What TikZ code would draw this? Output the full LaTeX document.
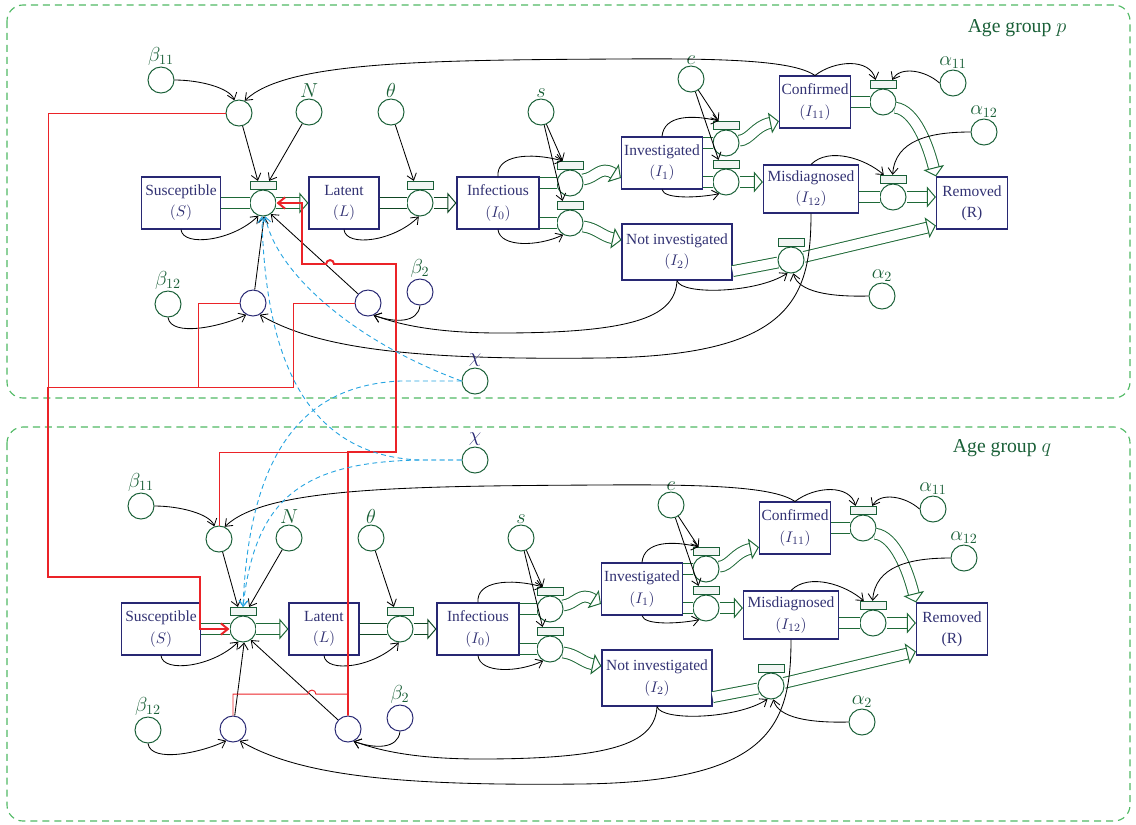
\documentclass[tikz,border=0pt]{standalone}
\usepackage{fontspec}
\setmainfont{Liberation Serif}
\usetikzlibrary{arrows.meta}
\definecolor{colNavy}{RGB}{40,40,115}
\definecolor{colText}{RGB}{50,50,115}
\definecolor{colGreen}{RGB}{25,95,55}
\definecolor{colPipe}{RGB}{30,105,55}
\definecolor{colPipeDark}{RGB}{15,70,35}
\definecolor{colFrame}{RGB}{80,185,100}
\definecolor{colRed}{RGB}{235,35,40}
\definecolor{colBlue}{RGB}{40,165,225}
\tikzset{
    box/.style={rectangle, draw=colNavy, line width=0.8pt, text=colText, align=center,
        minimum height=1.3cm, inner sep=1pt, font=\fontsize{11}{15}\selectfont},
    place/.style={circle, draw=colGreen, line width=0.7pt, minimum size=0.65cm, inner sep=0pt},
    navyplace/.style={place, draw=colNavy},
    bar/.style={rectangle, draw=colGreen, line width=0.7pt, fill=colGreen!6,
        minimum width=0.65cm, minimum height=0.19cm, inner sep=0pt, anchor=south},
    lab/.style={text=colGreen, font=\fontsize{14}{14}\selectfont, inner sep=0.5pt},
    pipe/.style={draw=colPipe, double=white, line width=0.7pt, double distance=7pt},
    darkpipe/.style={pipe, draw=colPipeDark, line width=1.1pt, double distance=6.5pt},
    flowtip/.style={-{Triangle[open, fill=white, length=6.5pt, width=15pt, line width=0.7pt]}},
    info/.style={draw=black, line width=0.6pt, -{Straight Barb[length=4.5pt, width=7pt]}},
    redthin/.style={draw=colRed, line width=0.7pt},
    redthick/.style={draw=colRed, line width=1.4pt},
    redtip/.style={-{Straight Barb[length=5pt, width=8pt]}},
    chiline/.style={draw=colBlue, dash pattern=on 3.5pt off 2.5pt, line width=0.65pt,
        -{Straight Barb[length=4pt, width=6pt]}},
    groupframe/.style={draw=colFrame, dash pattern=on 5pt off 3.5pt, line width=0.8pt,
        rounded corners=0.4cm}
}
% one age group, drawn in pixel-like units
\newcommand{\agegroup}{%
    % compartments
    \node[box, minimum width=1.975cm] (S) at (181,203) {Susceptible\\$(S)$};
    \node[box, minimum width=1.75cm] (L) at (344,203) {Latent\\$(L)$};
    \node[box, minimum width=2.05cm] (I0) at (498,203) {Infectious\\$(I_0)$};
    \node[box, minimum width=2.025cm] (I1) at (662,163) {Investigated\\$(I_1)$};
    \node[box, minimum width=1.775cm] (I11) at (815,102) {Confirmed\\$(I_{11})$};
    \node[box, minimum width=2.375cm, minimum height=1.2cm] (I12) at (811,189) {Misdiagnosed\\$(I_{12})$};
    \node[box, minimum width=2.75cm, minimum height=1.4cm] (I2) at (677,252) {Not investigated\\$(I_2)$};
    \node[box, minimum width=1.775cm] (R) at (972,203) {Removed\\(R)};
    % transitions
    \node[place] (tS) at (263,203) {};
    \node[place] (tL) at (420,203) {};
    \node[place] (tIa) at (570,183) {};
    \node[place] (tIb) at (570,223) {};
    \node[place] (tCa) at (726,143) {};
    \node[place] (tCb) at (726,182) {};
    \node[place] (tConf) at (883,102) {};
    \node[place] (tMis) at (893,197) {};
    \node[place] (tNot) at (791,260) {};
    \node[bar] (tSbar) at (tS.north) {};
    \node[bar] (tLbar) at (tL.north) {};
    \node[bar] (tIabar) at (tIa.north) {};
    \node[bar] (tIbbar) at (tIb.north) {};
    \node[bar] (tCabar) at (tCa.north) {};
    \node[bar] (tCbbar) at (tCb.north) {};
    \node[bar] (tConfbar) at (tConf.north) {};
    \node[bar] (tMisbar) at (tMis.north) {};
    \node[bar] (tNotbar) at (tNot.north) {};
    % parameters
    \node[place, label={[lab]above:$\beta_{11}$}] (b11) at (161,80) {};
    \node[place] (pF) at (239,113) {};
    \node[place, label={[lab]above:$N$}] (N) at (309,112) {};
    \node[place, label={[lab]above:$\theta$}] (th) at (391,112) {};
    \node[place, label={[lab]above:$s$}] (s) at (541,112) {};
    \node[place, label={[lab]above:$c$}] (c) at (691,79) {};
    \node[place, label={[lab]above:$\alpha_{11}$}] (a11) at (953,83) {};
    \node[place, label={[lab]above:$\alpha_{12}$}] (a12) at (984,132) {};
    \node[place, label={[lab]above:$\alpha_2$}] (a2) at (882,296) {};
    \node[place, label={[lab]above:$\beta_{12}$}] (b12) at (168,304) {};
    \node[navyplace, label={[lab]above:$\beta_2$}] (b2) at (420,292) {};
    \node[navyplace] (pA) at (253,303) {};
    \node[navyplace] (pB) at (368,303) {};
    % flows
    \draw[pipe] (S) -- (tS);
    \draw[pipe, flowtip] (tS) -- (L);
    \draw[darkpipe] (L) -- (tL);
    \draw[darkpipe, flowtip] (tL) -- (I0);
    \draw[pipe] (I0.east |- tIa) -- (tIa);
    \draw[pipe] (I0.east |- tIb) -- (tIb);
    \draw[pipe, flowtip] (tIa.15) .. controls (596,178) and (600,165) .. (I1.200);
    \draw[pipe, flowtip] (tIb.-15) .. controls (596,228) and (602,236) .. (I2.168);
    \draw[pipe] (I1.east |- tCa) -- (tCa);
    \draw[pipe] (I1.east |- tCb) -- (tCb);
    \draw[pipe, flowtip] (tCa.10) .. controls (750,140) and (755,126) .. (I11.208);
    \draw[pipe, flowtip] (tCb) -- (tCb -| I12.west);
    \draw[pipe] (I11) -- (tConf);
    \draw[pipe, flowtip] (tConf.-25) .. controls (915,110) and (928,145) .. (R.north west);
    \draw[pipe] (I12.east |- tMis) -- (tMis);
    \draw[pipe, flowtip] (tMis) -- (tMis -| R.west);
    \draw[pipe] (I2.-19) -- (tNot);
    \draw[pipe, flowtip] (tNot) -- (R.212);
    % information arcs
    \draw[info] (b11.east) .. controls (200,80) and (230,88) .. (pF.110);
    \draw[info] (I11.north) .. controls (795,62) and (740,58) .. (620,59)
        .. controls (420,60) and (285,62) .. (pF.65);
    \draw[info] (I11.north) .. controls (835,60) and (870,58) .. (tConfbar.150);
    \draw[info] (a11.west) .. controls (925,70) and (900,66) .. (tConfbar.25);
    \draw[info] (pF) -- (tSbar.140);
    \draw[info] (N) -- (tSbar.35);
    \draw[info] (th) -- (tLbar.145);
    \draw[info] (S.south) .. controls +(2,18) and +(-25,25) .. (tS.-110);
    \draw[info] (L.south) .. controls +(2,18) and +(-25,25) .. (tL.-95);
    \draw[info] (I0.north) .. controls (496,155) and (530,152) .. (tIabar.150);
    \draw[info] (s) -- (tIabar.150);
    \draw[info] (s) -- (tIbbar.150);
    \draw[info] (I0.south) .. controls +(2,18) and +(-25,12) .. (tIb.-120);
    \draw[info] (I1.north) .. controls +(2,-22) and +(-25,-6) .. (tCabar.150);
    \draw[info] (c) -- (tCabar.150);
    \draw[info] (c) -- (tCbbar.150);
    \draw[info] (I1.south) .. controls +(2,10) and +(-20,4) .. (tCb.-120);
    \draw[info] (I12.north) .. controls +(18,-18) and +(-18,-16) .. (tMisbar.155);
    \draw[info] (a12.west) .. controls (930,132) and (895,140) .. (tMisbar.95);
    \draw[info] (I12.south) .. controls (811,300) and (790,356) .. (600,358)
        .. controls (420,360) and (320,350) .. (pA.-60);
    \draw[info] (I2.south) .. controls +(4,15) and +(-30,20) .. (tNot.-105);
    \draw[info] (I2.south) .. controls (675,315) and (640,333) .. (500,333)
        .. controls (430,333) and (395,323) .. (pB.-65);
    \draw[info] (b2.south) .. controls (418,323) and (395,323) .. (pB.-65);
    \draw[info] (a2.west) .. controls (830,297) and (798,292) .. (tNot.-80);
    \draw[info] (b12.south) .. controls +(3,20) and +(-25,12) .. (pA.-120);
    \draw[info] (pA) -- (tS.-85);
    \draw[info] (pB) -- (tS.-55);
}

\begin{document}
\begin{tikzpicture}[x=0.025cm, y=-0.025cm]
    \useasboundingbox (0,0) rectangle (1136,824);

    % age group frames
    \draw[groupframe] (7,5) rectangle (1130,398);
    \draw[groupframe] (7,427) rectangle (1130,821);
    \node[lab] (grpP) at (1017,28) {Age group $p$};
    \node[lab] (grpQ) at (1002,448) {Age group $q$};

    \begin{scope}[name prefix=p-]
        \agegroup
    \end{scope}
    \begin{scope}[shift={(-20,426)}, name prefix=q-]
        \agegroup
    \end{scope}

    % contact rate
    \node[place, label={[lab, text=colNavy]above:$\chi$}] (chiP) at (475,381) {};
    \node[place, label={[lab, text=colNavy]above:$\chi$}] (chiQ) at (475,460) {};

    % cross-group infection
    \draw[redthin] (p-pF.west) -| (48,387) -- (198,387);
    \draw[redthin] (p-pA.west) -| (198,387) -- (293,387) |- (p-pB.west);
    \draw[redthick, redtip] (48,387) |- (200,577) |- (q-tS.west);
    \draw[redthick, redtip] (q-pB.north) |- (396,452) |- (334,264)
        arc[start angle=0, end angle=180, radius=2.8pt] -- (302,264) |- (p-tS.east);
    \draw[redthin] (q-pF.north) |- (348,452);
    \draw[redthin] (q-pA.north) |- (308,694)
        arc[start angle=180, end angle=0, radius=2.8pt] -- (348,694);

    % contact links
    \draw[chiline] (chiP.west) .. controls (350,340) and (275,270) .. (p-tS.-80);
    \draw[chiline] (chiP.west) -- (400,381) .. controls (320,385) and (250,430) .. (q-tSbar.north);
    \draw[chiline] (chiQ.west) -- (420,460) .. controls (290,455) and (265,330) .. (p-tS.-95);
    \draw[chiline] (chiQ.west) -- (420,460) .. controls (300,462) and (255,500) .. (q-tSbar.north);
\end{tikzpicture}
\end{document}
